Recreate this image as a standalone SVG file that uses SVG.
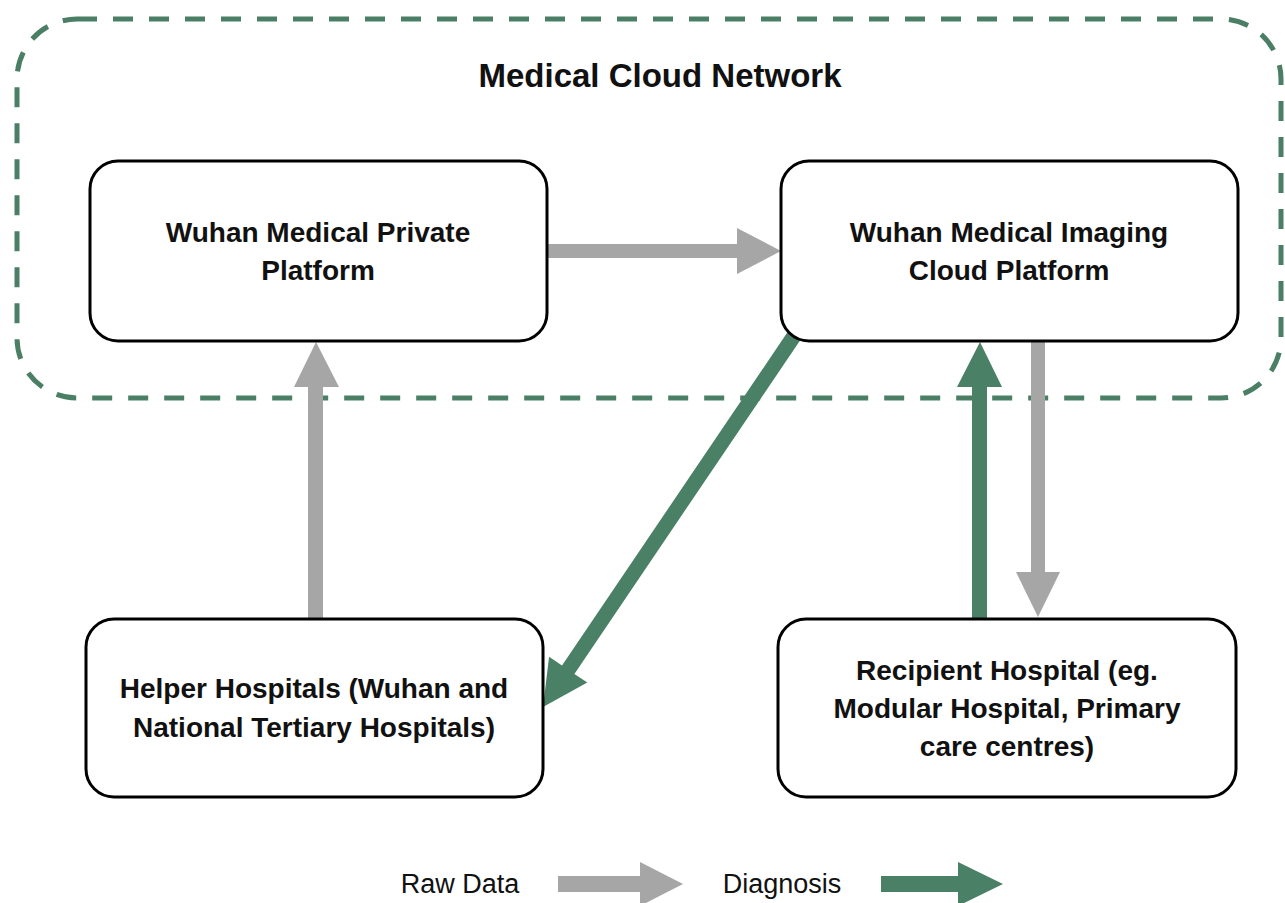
<svg xmlns="http://www.w3.org/2000/svg" width="1285" height="903" viewBox="0 0 1285 903">
<style>
.box{fill:#fff;stroke:#000;stroke-width:3}
.t{font-family:"Liberation Sans",Arial,sans-serif;font-weight:bold;font-size:28px;fill:#111;text-anchor:middle}
.lg{font-family:"Liberation Sans",Arial,sans-serif;font-size:27px;fill:#111;text-anchor:middle}
.gray{fill:#a6a6a6}
.green{fill:#4a8066}
</style>
<rect width="1285" height="903" fill="#fff"/>
<g id="cloud">
<rect x="17" y="19" width="1264" height="379" rx="60" ry="60" fill="none" stroke="#4a7f66" stroke-width="5" stroke-dasharray="20 16"/>
<text class="t" x="660" y="87" style="font-size:33px">Medical Cloud Network</text>
</g>
<g id="connectors">
<polygon class="gray" points="547,244 737,244 737,228 781,251 737,274 737,258 547,258"/>
<polygon class="gray" points="308,619 308,387 294,387 316,342 339,387 323,387 323,619"/>
<polygon class="green" points="787.8,331.8 800.2,340.2 574.4,673.9 587.3,682.6 543,707 549.1,656.8 562,665.5"/>
<polygon class="green" points="972,619 972,387 957,387 980,342 1002,387 987,387 987,619"/>
<polygon class="gray" points="1031,341 1045,341 1045,572 1060,572 1038,617 1016,572 1031,572"/>
</g>
<g id="n1">
<rect class="box" x="90" y="161" width="457" height="180" rx="28"/>
<text class="t" x="318" y="242">Wuhan Medical Private</text>
<text class="t" x="318" y="280">Platform</text>
</g>
<g id="n2">
<rect class="box" x="781" y="161" width="457" height="180" rx="28"/>
<text class="t" x="1009" y="242">Wuhan Medical Imaging</text>
<text class="t" x="1009" y="280">Cloud Platform</text>
</g>
<g id="n3">
<rect class="box" x="86" y="619" width="457" height="178" rx="28"/>
<text class="t" x="314" y="698">Helper Hospitals (Wuhan and</text>
<text class="t" x="314" y="737">National Tertiary Hospitals)</text>
</g>
<g id="n4">
<rect class="box" x="778" y="619" width="458" height="178" rx="28"/>
<text class="t" x="1007" y="680">Recipient Hospital (eg.</text>
<text class="t" x="1007" y="718">Modular Hospital, Primary</text>
<text class="t" x="1007" y="756">care centres)</text>
</g>
<g id="legend">
<text class="lg" x="460" y="893">Raw Data</text>
<polygon class="gray" points="558,876 640,876 640,862 683,884 640,906 640,892 558,892"/>
<text class="lg" x="782" y="893">Diagnosis</text>
<polygon class="green" points="881,876 958,876 958,862 1003,884 958,906 958,892 881,892"/>
</g>
</svg>
